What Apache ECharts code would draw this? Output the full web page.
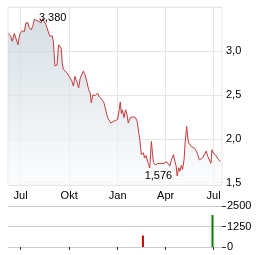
<!DOCTYPE html>
<html><head><meta charset="utf-8">
<script src="https://cdn.jsdelivr.net/npm/echarts@6/dist/echarts.min.js"></script>
<style>html,body{margin:0;padding:0;background:#fff}#c{width:264px;height:255px}</style>
</head><body><div id="c"></div>
<script>
const axisStart = '2023-06-07';
const axisEnd = '2024-07-17';
const dates = [
'2023-06-07','2023-06-10','2023-06-12','2023-06-15','2023-06-19','2023-06-22','2023-06-26','2023-06-28','2023-06-30',
'2023-07-04','2023-07-08','2023-07-11','2023-07-15','2023-07-17','2023-07-21','2023-07-24','2023-07-27','2023-07-30',
'2023-08-03','2023-08-05','2023-08-09','2023-08-12','2023-08-15','2023-08-18','2023-08-21','2023-08-25','2023-08-27','2023-08-30',
'2023-09-01','2023-09-03','2023-09-04','2023-09-08','2023-09-11','2023-09-14','2023-09-16','2023-09-18','2023-09-20','2023-09-23','2023-09-27','2023-09-30',
'2023-10-03','2023-10-06','2023-10-09','2023-10-12','2023-10-16','2023-10-19','2023-10-22','2023-10-25','2023-10-28','2023-10-31',
'2023-11-04','2023-11-07','2023-11-10','2023-11-12','2023-11-15','2023-11-19','2023-11-24','2023-11-27','2023-11-30',
'2023-12-03','2023-12-06','2023-12-09','2023-12-13','2023-12-16','2023-12-19','2023-12-22','2023-12-25','2023-12-28',
'2024-01-01','2024-01-04','2024-01-06','2024-01-08','2024-01-10','2024-01-13','2024-01-16','2024-01-19','2024-01-21','2024-01-25','2024-01-27','2024-01-31',
'2024-02-04','2024-02-07','2024-02-10','2024-02-12','2024-02-15','2024-02-19','2024-02-21','2024-02-24','2024-02-26','2024-02-28',
'2024-03-02','2024-03-05','2024-03-07','2024-03-09','2024-03-13','2024-03-17','2024-03-20','2024-03-23','2024-03-26','2024-03-29',
'2024-04-01','2024-04-03','2024-04-06','2024-04-09','2024-04-12','2024-04-16','2024-04-18','2024-04-21','2024-04-23','2024-04-26','2024-04-28',
'2024-05-01','2024-05-03','2024-05-06','2024-05-08','2024-05-11','2024-05-13','2024-05-15','2024-05-17','2024-05-20','2024-05-22','2024-05-26','2024-05-29',
'2024-06-01','2024-06-04','2024-06-07','2024-06-10','2024-06-13','2024-06-17','2024-06-20','2024-06-23','2024-06-26','2024-06-28','2024-06-30',
'2024-07-04','2024-07-07','2024-07-11','2024-07-14'
];
const prices = [
3.20,3.22,3.17,3.11,3.20,3.18,3.07,3.15,3.20,
3.23,3.22,3.32,3.32,3.27,3.24,3.28,3.36,3.38,
3.34,3.36,3.32,3.37,3.33,3.30,3.32,3.17,3.17,3.17,
3.11,2.92,2.83,2.84,3.07,3.09,3.03,2.86,2.79,2.81,2.75,2.73,
2.69,2.66,2.60,2.71,2.64,2.58,2.69,2.67,2.77,2.73,
2.64,2.56,2.52,2.41,2.50,2.49,2.52,2.48,2.46,
2.44,2.41,2.42,2.24,2.22,2.18,2.20,2.20,2.20,
2.22,2.33,2.42,2.29,2.33,2.24,2.33,2.27,2.18,2.24,2.22,2.25,
2.24,2.20,2.22,1.99,1.82,1.84,1.78,1.81,1.76,1.72,
1.67,1.97,1.84,1.73,1.70,1.72,1.70,1.72,1.70,1.72,
1.70,1.74,1.72,1.69,1.76,1.82,1.76,1.69,1.576,1.67,1.63,
1.70,1.65,1.76,1.95,2.14,2.02,1.95,1.97,1.91,1.89,1.89,1.86,
1.82,1.76,1.74,1.78,1.76,1.86,1.80,1.82,1.72,1.875,1.84,
1.82,1.82,1.76,1.74
];
const volDates = ['2024-02-18','2024-06-29'];
const volumes = [700, 1950];
const volUp = [false, true];
const monthLabels = {'01':'Jan','04':'Apr','07':'Jul','10':'Okt'};

const cats = [];
for (let t = Date.parse(axisStart + 'T00:00:00Z'); t <= Date.parse(axisEnd + 'T00:00:00Z'); t += 86400000) {
  cats.push(new Date(t).toISOString().slice(0, 10));
}
const isQuarter = (idx, v) => v.slice(8) === '01' && monthLabels[v.slice(5, 7)] !== undefined;
const font = 'Liberation Sans, Arial, sans-serif';

const chart = echarts.init(document.getElementById('c'));
chart.setOption({
  animation: false,
  grid: [
    {left: 8, right: 42, top: 7, height: 178, show: true, borderColor: '#e6e6e6', borderWidth: 1},
    {left: 8, right: 42, top: 206, height: 41}
  ],
  xAxis: [
    {type: 'category', gridIndex: 0, data: cats, boundaryGap: false,
     axisLine: {show: false}, axisTick: {show: false}, axisLabel: {show: false},
     splitLine: {show: true, interval: isQuarter, lineStyle: {color: '#e6e6e6'}}},
    {type: 'category', gridIndex: 1, data: cats, boundaryGap: false, position: 'top',
     axisLine: {show: false},
     axisTick: {show: true, inside: true, length: 3, interval: isQuarter, lineStyle: {color: '#333'}},
     axisLabel: {show: true, interval: isQuarter, formatter: v => monthLabels[v.slice(5, 7)] || '',
                 margin: 5, color: '#000', fontSize: 11, fontFamily: font},
     splitLine: {show: false}}
  ],
  yAxis: [
    {type: 'value', gridIndex: 0, position: 'right', min: 1.474, max: 3.5,
     axisLine: {show: false}, axisTick: {show: false},
     splitLine: {lineStyle: {color: '#e6e6e6'}},
     axisLabel: {showMinLabel: false, showMaxLabel: false, formatter: v => v.toFixed(1).replace('.', ','),
                 margin: 4, color: '#000', fontSize: 11, fontFamily: font}},
    {type: 'value', gridIndex: 1, position: 'right', min: 0, max: 2500, interval: 1250,
     axisLine: {show: false},
     axisTick: {show: true, length: 4, lineStyle: {color: '#333'}},
     splitLine: {lineStyle: {color: '#cccccc'}},
     axisLabel: {margin: 5, color: '#000', fontSize: 11, fontFamily: font, formatter: v => String(v)}}
  ],
  series: [
    {type: 'line', xAxisIndex: 0, yAxisIndex: 0,
     data: dates.map((d, i) => [d, prices[i]]),
     showSymbol: false, symbol: 'none',
     lineStyle: {color: '#c43a3a', width: 1},
     areaStyle: {origin: 'start', color: new echarts.graphic.LinearGradient(0, 0, 0, 1, [
       {offset: 0, color: '#c5d0d8'}, {offset: 1, color: '#fafbfc'}])},
     markPoint: {
       symbol: 'circle', symbolSize: 0,
       label: {formatter: p => Number(p.value).toFixed(3).replace('.', ','), color: '#000', fontSize: 11, fontFamily: font},
       data: [
         {type: 'max', label: {position: 'right', distance: 3}},
         {type: 'min', label: {position: 'left', distance: 5}}
       ]
     }},
    {type: 'bar', xAxisIndex: 1, yAxisIndex: 1, barWidth: 2,
     data: volDates.map((d, i) => ({value: [d, volumes[i]], itemStyle: {color: volUp[i] ? '#008000' : '#cc0000'}}))}
  ]
});
</script>
</body></html>
